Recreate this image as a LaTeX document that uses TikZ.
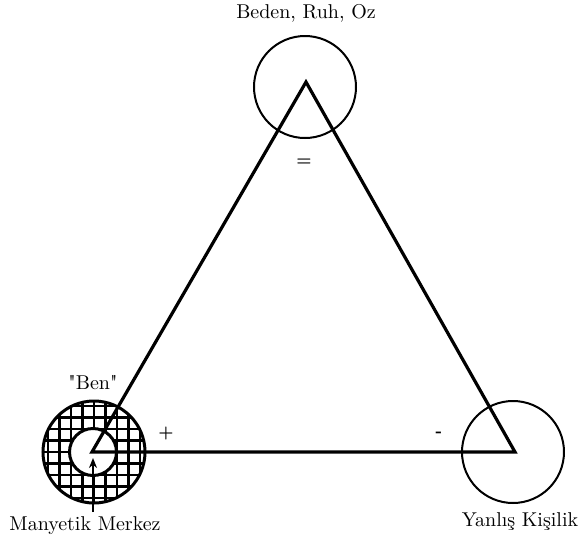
\documentclass[tikz,border=0pt]{standalone}
\usepackage{xcolor}
\usetikzlibrary{arrows.meta,positioning,calc}

\begin{document}
\begin{tikzpicture}[
    x=0.5pt, y=-0.5pt,
    ring/.style={
        circle,
        draw=black,
        line width=1pt,
        minimum size=51pt,
        inner sep=0pt
    },
    lbl/.style={
        font=\normalsize,
        inner sep=1pt
    },
    sign/.style={
        font=\footnotesize\bfseries,
        inner sep=0pt
    },
    side/.style={line width=1.6pt, line join=miter},
    arrow/.style={-{Stealth[length=5pt,width=4pt]}, line width=0.9pt}
]
\useasboundingbox (0,0) rectangle (586,543);

% Vertices
\coordinate (top) at (306,82);
\coordinate (left) at (92,452);
\coordinate (right) at (515,452);

% Circles
\node[ring] (body) at (305,87) {};
\node[ring] (false) at (513,452) {};

% Hatched ring round the magnetic centre
\begin{scope}
    \clip (94,452) circle (51);
    \foreach \k in {-5,...,5} {
        \draw[line width=1.1pt] ($(94,452)+(\k*11.5,-60)$) -- ++(0,120);
        \draw[line width=1.1pt] ($(94,452)+(-60,\k*11.5)$) -- ++(120,0);
    }
\end{scope}
\node[ring, line width=1.5pt] (self) at (94,452) {};
\node[circle, draw=black, fill=white, line width=1.5pt,
      minimum size=23.5pt, inner sep=0pt] (centre) at (93,452) {};

% Triangle
\draw[side] (left) -- (top) -- (right) -- cycle;

% Labels
\node[lbl] (bodylbl) at (306,13) {Beden, Ruh, Oz};
\node[lbl] (benlbl) at (93,383) {\textquotedbl Ben\textquotedbl};
\node[lbl] (centrelbl) at (85,526) {Manyetik Merkez};
\node[lbl] (falselbl) at (520,522) {Yanlış Kişilik};

% Signs
\node[sign] (eq) at (304,162) {=};
\node[sign] (plus) at (166,433) {+};
\node[sign] (minus) at (439,434) {-};

% Arrow to the centre
\coordinate (arrowfoot) at (93,512);
\coordinate (arrowtip) at (93,458);
\draw[arrow] (arrowfoot) -- (arrowtip);

\end{tikzpicture}
\end{document}
